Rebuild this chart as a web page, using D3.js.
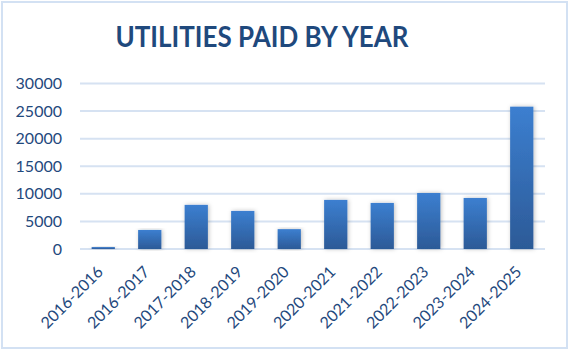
<!DOCTYPE html>
<html>
<head>
<meta charset="utf-8">
<script src="https://d3js.org/d3.v7.min.js"></script>
<style>
  body { margin: 0; background: #fff; }
  svg { display: block; font-family: Lato, "Open Sans", sans-serif; }
</style>
</head>
<body>
<div id="chart"></div>
<script>
const periods = ["2016-2016", "2016-2017", "2017-2018", "2018-2019", "2019-2020",
                 "2020-2021", "2021-2022", "2022-2023", "2023-2024", "2024-2025"];
const paid = [350, 3450, 8000, 6900, 3600, 8900, 8350, 10150, 9250, 25800];
const yTicks = [0, 5000, 10000, 15000, 20000, 25000, 30000];

const width = 570;
const height = 352;
const plotLeft = 80, plotRight = 545, plotTop = 83.5, plotBottom = 249;

const svg = d3.select("#chart")
    .append("svg")
      .attr("width", width)
      .attr("height", height);

// frame
svg.append("rect")
    .attr("x", 2).attr("y", 2)
    .attr("width", 565).attr("height", 346)
    .attr("fill", "#fff")
    .attr("stroke", "#d3e1f3")
    .attr("stroke-width", 2);

const defs = svg.append("defs");
const grad = defs.append("linearGradient")
    .attr("id", "barFill")
    .attr("x1", 0).attr("y1", 0).attr("x2", 0).attr("y2", 1);
grad.append("stop").attr("offset", "0%").attr("stop-color", "#3c7fd0");
grad.append("stop").attr("offset", "100%").attr("stop-color", "#2c5a97");

const shadow = defs.append("filter")
    .attr("id", "shadow")
    .attr("x", "-50%").attr("y", "-10%")
    .attr("width", "200%").attr("height", "120%");
shadow.append("feDropShadow")
    .attr("dx", 1).attr("dy", 0)
    .attr("stdDeviation", 2)
    .attr("flood-color", "#000")
    .attr("flood-opacity", 0.25);

// title
svg.append("text")
    .text("UTILITIES PAID BY YEAR")
    .attr("x", 262)
    .attr("y", 47)
    .attr("text-anchor", "middle")
    .attr("font-size", 28)
    .attr("font-weight", "bold")
    .attr("textLength", 293)
    .attr("lengthAdjust", "spacingAndGlyphs")
    .attr("fill", "#1f497d");

const x = d3.scaleBand()
    .domain(periods)
    .range([plotLeft, plotRight])
    .paddingInner(0.5)
    .paddingOuter(0.25);

const y = d3.scaleLinear()
    .domain([0, 30000])
    .range([plotBottom, plotTop]);

// grid
svg.append("g")
    .selectAll("line")
    .data(yTicks).enter()
  .append("line")
    .attr("x1", plotLeft).attr("x2", plotRight)
    .attr("y1", (d) => y(d)).attr("y2", (d) => y(d))
    .attr("stroke", "#d6e2f2")
    .attr("stroke-width", 2);

// y axis labels
const yAxis = svg.append("g")
    .attr("transform", `translate(${plotLeft - 18},0)`)
    .call(d3.axisLeft(y).tickValues(yTicks).tickFormat(d3.format("d")).tickSize(0).tickPadding(0))
    .attr("font-family", "Lato, sans-serif")
    .attr("font-size", 16);
yAxis.select(".domain").remove();
yAxis.selectAll(".tick text").attr("fill", "#1f497d");

// bars
svg.append("g")
    .selectAll("rect")
    .data(paid).enter()
  .append("rect")
    .attr("x", (d, i) => x(periods[i]))
    .attr("y", (d) => y(d))
    .attr("width", x.bandwidth())
    .attr("height", (d) => y(0) - y(d))
    .attr("fill", "url(#barFill)")
    .attr("filter", "url(#shadow)");

// x axis labels
const xAxis = svg.append("g")
    .attr("transform", `translate(0,${plotBottom})`)
    .call(d3.axisBottom(x).tickSize(0).tickPadding(0))
    .attr("font-family", "Lato, sans-serif")
    .attr("font-size", 16);
xAxis.select(".domain").remove();
xAxis.selectAll(".tick text")
    .attr("fill", "#1f497d")
    .attr("text-anchor", "end")
    .attr("dy", null)
    .attr("y", 0)
    .attr("transform", "translate(-2,21) rotate(-45)")
    .attr("dominant-baseline", "middle");
</script>
</body>
</html>
